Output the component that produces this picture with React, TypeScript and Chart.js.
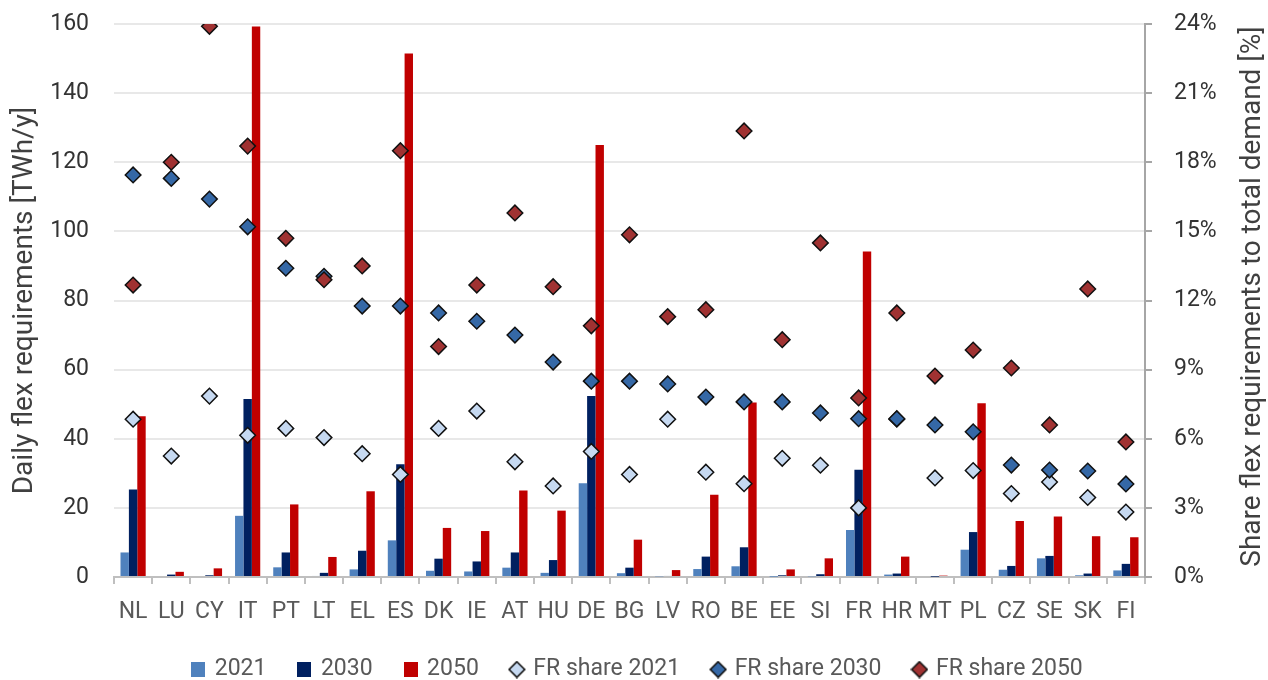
import React, { useEffect, useRef } from "react";
import { Chart, registerables } from "chart.js";

Chart.register(...registerables);

const categories = ["NL","LU","CY","IT","PT","LT","EL","ES","DK","IE","AT","HU","DE","BG","LV","RO","BE","EE","SI","FR","HR","MT","PL","CZ","SE","SK","FI"];

const flex2021 = [7.1, 0, 0, 17.7, 2.8, 0.3, 2.2, 10.6, 1.8, 1.6, 2.7, 1.2, 27.1, 1.1, 0.2, 2.3, 3.1, 0.1, 0.2, 13.6, 0.7, 0, 7.9, 2.1, 5.4, 0.5, 1.9];
const flex2030 = [25.3, 0.7, 0.5, 51.5, 7.1, 1.2, 7.6, 32.6, 5.3, 4.5, 7.1, 4.9, 52.4, 2.7, 0.3, 5.9, 8.6, 0.5, 0.8, 31, 1, 0.1, 13, 3.2, 6.1, 1, 3.8];
const flex2050 = [46.5, 1.5, 2.5, 159.3, 21, 5.8, 24.8, 151.5, 14.2, 13.3, 25, 19.2, 125, 10.8, 2, 23.8, 50.5, 2.2, 5.4, 94.2, 5.9, 0.4, 50.3, 16.2, 17.5, 11.8, 11.5];

const frShare2021 = [6.85, 5.25, 7.85, 6.15, 6.45, 6.05, 5.35, 4.45, 6.45, 7.2, 5.0, 3.95, 5.45, 4.45, 6.85, 4.55, 4.05, 5.15, 4.85, 3.0, 6.85, 4.3, 4.62, 3.62, 4.12, 3.45, 2.82];
const frShare2030 = [17.45, 17.3, 16.4, 15.2, 13.4, 13.05, 11.76, 11.76, 11.46, 11.1, 10.5, 9.33, 8.5, 8.5, 8.38, 7.81, 7.6, 7.6, 7.12, 6.87, 6.87, 6.6, 6.3, 4.86, 4.64, 4.6, 4.04];
const frShare2050 = [12.67, 18.0, 23.9, 18.7, 14.7, 12.9, 13.5, 18.5, 10.0, 12.67, 15.8, 12.6, 10.9, 14.85, 11.3, 11.6, 19.36, 10.3, 14.5, 7.77, 11.46, 8.72, 9.85, 9.07, 6.6, 12.5, 5.86];

const leftTicks = [0, 20, 40, 60, 80, 100, 120, 140, 160];
const rightTicks = [0, 3, 6, 9, 12, 15, 18, 21, 24];

const seriesLabels = ["2021", "2030", "2050", "FR share 2021", "FR share 2030", "FR share 2050"];
const LEFT_TITLE = "Daily flex requirements [TWh/y]";
const RIGHT_TITLE = "Share flex requirements to total demand [%]";

const C2021 = "#4F81BD";
const C2030 = "#002060";
const C2050 = "#C00000";
const D2021 = "#C6D9F1";
const D2030 = "#3568A6";
const D2050 = "#A03232";
const FONT = "Roboto";

function makeRect(color: string) {
  const c = document.createElement("canvas");
  c.width = 14; c.height = 15;
  const g = c.getContext("2d")!;
  g.fillStyle = color;
  g.fillRect(0, 0, 14, 15);
  return c;
}
function makeDiamond(color: string) {
  const c = document.createElement("canvas");
  c.width = 18; c.height = 18;
  const g = c.getContext("2d")!;
  g.beginPath();
  g.moveTo(9, 1.2); g.lineTo(16.8, 9); g.lineTo(9, 16.8); g.lineTo(1.2, 9); g.closePath();
  g.fillStyle = color; g.fill();
  g.lineWidth = 1.6; g.strokeStyle = "#111"; g.stroke();
  return c;
}

export default function App() {
  const ref = useRef<HTMLCanvasElement | null>(null);
  useEffect(() => {
    if (!ref.current) return;
    const markers = [makeRect(C2021), makeRect(C2030), makeRect(C2050), makeDiamond(D2021), makeDiamond(D2030), makeDiamond(D2050)];
    const rightTitle = {
      id: "rightTitle",
      afterDraw(chart: any) {
        const s = chart.scales.y1;
        const ctx = chart.ctx;
        ctx.save();
        ctx.translate(s.right - 15, (s.top + s.bottom) / 2 - 4);
        ctx.rotate(-Math.PI / 2);
        ctx.font = `28px ${FONT}`;
        ctx.fillStyle = "#404040";
        ctx.textAlign = "center";
        ctx.textBaseline = "middle";
        ctx.fillText(RIGHT_TITLE, 0, 0);
        ctx.restore();
      },
    };
    const legendHeight = {
      id: "legendHeight",
      beforeLayout(chart: any) {
        const lg = chart.legend;
        if (lg && !lg.__patched) {
          const orig = lg.fit.bind(lg);
          lg.fit = function () {
            orig();
            this.height = 55;
          };
          lg.__patched = true;
        }
      },
      afterLayout(chart: any) {
        const lg = chart.legend;
        if (lg) {
          lg.left += 4;
          lg.right += 4;
        }
      },
    };
    const pointDs = (label: string, data: number[], color: string, order: number) => ({
      type: "line" as const,
      label,
      data,
      yAxisID: "y1",
      showLine: false,
      pointStyle: "rectRot",
      pointRadius: 7.8,
      pointHoverRadius: 7.8,
      pointBackgroundColor: color,
      pointBorderColor: "#111",
      pointBorderWidth: 1.5,
      backgroundColor: color,
      borderColor: "#111",
      order,
    });
    const barDs = (label: string, data: number[], color: string) => ({
      type: "bar" as const,
      label,
      data,
      yAxisID: "y",
      backgroundColor: color,
      borderWidth: 0,
      categoryPercentage: 0.66,
      barPercentage: 1.0,
      order: 10,
    });
    const vPad = (s: any, w: number) => {
      s.width = w;
      s.paddingTop = 10;
      s.paddingBottom = 10;
    };
    const chart = new Chart(ref.current, {
      type: "bar",
      data: {
        labels: categories,
        datasets: [
          barDs(seriesLabels[0], flex2021, C2021),
          barDs(seriesLabels[1], flex2030, C2030),
          barDs(seriesLabels[2], flex2050, C2050),
          pointDs(seriesLabels[3], frShare2021, D2021, 3),
          pointDs(seriesLabels[4], frShare2030, D2030, 2),
          pointDs(seriesLabels[5], frShare2050, D2050, 1),
        ] as any,
      },
      options: {
        animation: false,
        responsive: false,
        devicePixelRatio: 1,
        layout: { padding: { top: 24, left: 0, right: 0, bottom: 0 } },
        font: { family: FONT },
        plugins: {
          tooltip: { enabled: false },
          legend: {
            position: "bottom",
            align: "center",
            labels: {
              usePointStyle: true,
              boxWidth: 10,
              padding: 33,
              color: "#595959",
              font: { family: FONT, size: 23 },
              sort: (a: any, b: any) => a.datasetIndex - b.datasetIndex,
              generateLabels: () =>
                seriesLabels.map((t, i) => ({
                  text: t,
                  datasetIndex: i,
                  pointStyle: markers[i] as any,
                  fillStyle: "rgba(0,0,0,0)",
                  strokeStyle: "rgba(0,0,0,0)",
                  lineWidth: 0,
                  hidden: false,
                  fontColor: "#595959",
                })),
            },
          },
        },
        scales: {
          x: {
            offset: true,
            grid: { drawOnChartArea: false, drawTicks: true, tickLength: 7, color: "#BFBFBF", lineWidth: 2, offset: true },
            border: { display: true, color: "#BFBFBF", width: 2 },
            ticks: { autoSkip: false, maxRotation: 0, color: "#595959", font: { family: FONT, size: 23 }, padding: 14 },
            afterFit: (s: any) => { s.height = 48; },
          },
          y: {
            position: "left",
            min: 0,
            max: 160,
            afterBuildTicks: (s: any) => { s.ticks = leftTicks.map((v) => ({ value: v })); },
            grid: { color: "#E8E8E8", lineWidth: 2, drawTicks: false },
            border: { display: false },
            ticks: { color: "#333333", font: { family: FONT, size: 23 }, padding: 25 },
            title: { display: true, text: LEFT_TITLE, color: "#404040", font: { family: FONT, size: 28 }, padding: { top: 8, bottom: 0 } },
            afterFit: (s: any) => vPad(s, 114),
          },
          y1: {
            position: "right",
            min: 0,
            max: 24,
            afterBuildTicks: (s: any) => { s.ticks = rightTicks.map((v) => ({ value: v })); },
            grid: { drawOnChartArea: false, drawTicks: true, tickLength: 7, color: "#A6A6A6", lineWidth: 2 },
            border: { display: true, color: "#A6A6A6", width: 2 },
            ticks: { color: "#333333", font: { family: FONT, size: 23 }, padding: 22, callback: (v: any) => `${v}%` },
            afterFit: (s: any) => vPad(s, 123),
          },
        },
      } as any,
      plugins: [rightTitle, legendHeight],
    });
    return () => chart.destroy();
  }, []);
  return (
    <div style={{ position: "fixed", left: 0, top: 0, width: 1268, height: 680, background: "#fff" }}>
      <canvas ref={ref} width={1268} height={680} style={{ width: 1268, height: 680, display: "block" }} />
    </div>
  );
}
